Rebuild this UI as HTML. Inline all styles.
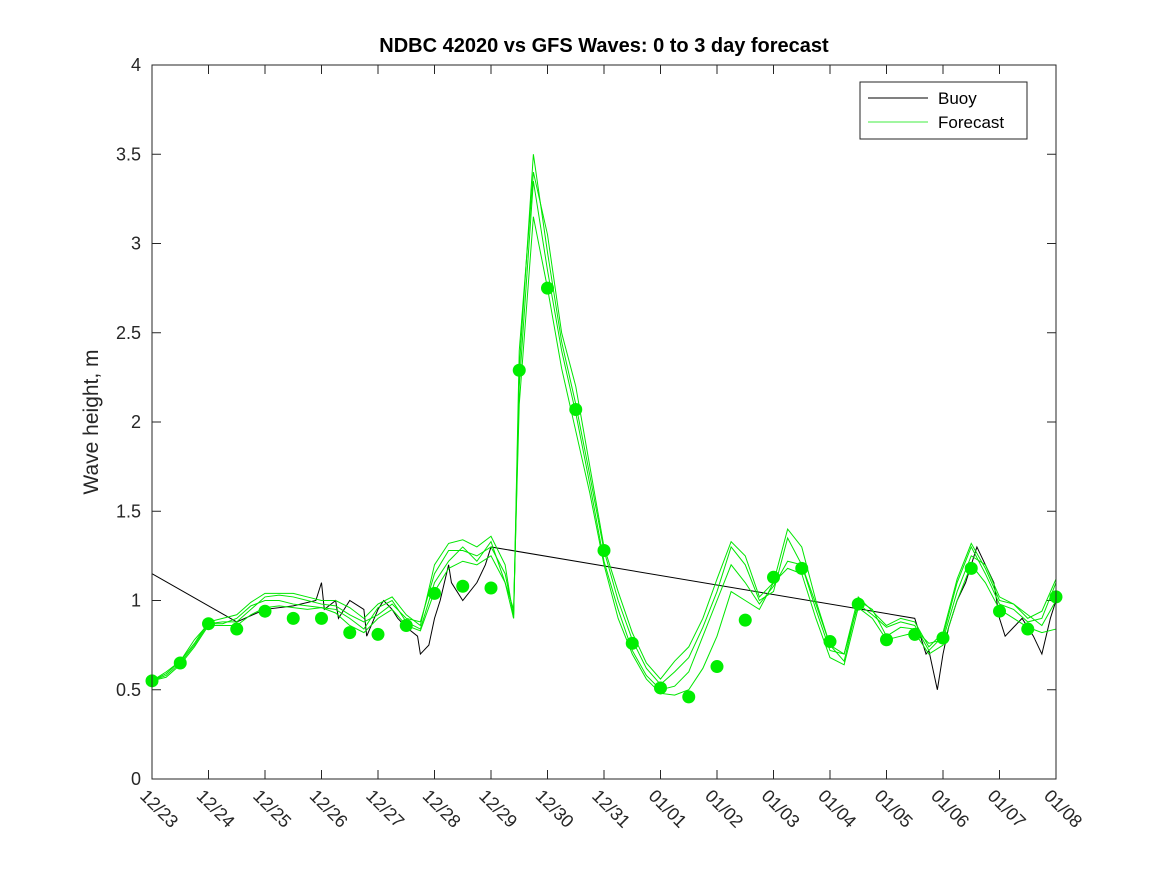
<!DOCTYPE html>
<html><head><meta charset="utf-8"><style>
body{margin:0;background:#fff;}
svg{display:block;font-family:"Liberation Sans",sans-serif;}
</style></head><body>
<svg id="chart" width="1167" height="875">
<rect width="1167" height="875" fill="#fff"/>
<text x="604" y="52" text-anchor="middle" font-size="20" font-weight="bold" fill="#000">NDBC 42020 vs GFS Waves: 0 to 3 day forecast</text>
<text transform="translate(98,422) rotate(-90)" text-anchor="middle" font-size="21" fill="#262626">Wave height, m</text>
<g id="grid"></g>
<g id="plot"></g>
<rect x="152" y="65" width="904" height="714" fill="none" stroke="#262626" stroke-width="1"/>
<g>
<rect x="860" y="82" width="167" height="57" fill="#fff" stroke="#262626"/>
<line x1="868" y1="98" x2="928" y2="98" stroke="#000"/>
<text x="938" y="104" font-size="17" fill="#000">Buoy</text>
<line x1="868" y1="122" x2="928" y2="122" stroke="#00e600" stroke-width="0.8"/>
<text x="938" y="128" font-size="17" fill="#000">Forecast</text>
</g>
</svg>
<script>
const xTickLabels=["12/23","12/24","12/25","12/26","12/27","12/28","12/29","12/30","12/31","01/01","01/02","01/03","01/04","01/05","01/06","01/07","01/08"];
const yTicks=[0,0.5,1,1.5,2,2.5,3,3.5,4];
const buoyT=[0,1.5,2,2.5,2.9,3.0,3.05,3.25,3.3,3.5,3.75,3.8,4,4.1,4.25,4.35,4.5,4.7,4.75,4.9,5,5.1,5.25,5.3,5.5,5.75,5.9,6,13.5,13.7,13.75,13.9,14,14.1,14.25,14.4,14.5,14.6,14.75,14.9,15,15.1,15.25,15.4,15.5,15.6,15.75,15.9,16];
const buoyV=[1.15,0.88,0.95,0.97,1.0,1.1,0.95,1.0,0.9,1.0,0.95,0.8,0.95,1.0,0.95,0.9,0.85,0.8,0.7,0.75,0.9,1.0,1.2,1.1,1.0,1.1,1.2,1.3,0.9,0.7,0.72,0.5,0.7,0.85,1.0,1.1,1.2,1.3,1.2,1.1,0.9,0.8,0.85,0.9,0.85,0.8,0.7,0.9,1.0];
const fcT=[0,0.25,0.5,0.75,1,1.25,1.5,1.75,2,2.25,2.5,2.75,3,3.25,3.5,3.75,4,4.25,4.5,4.75,5,5.25,5.5,5.75,6,6.25,6.4,6.5,6.75,7,7.25,7.5,7.75,8,8.25,8.5,8.75,9,9.25,9.5,9.75,10,10.25,10.5,10.75,11,11.25,11.5,11.75,12,12.25,12.5,12.75,13,13.25,13.5,13.75,14,14.25,14.5,14.75,15,15.25,15.5,15.75,16];
const fcA=[0.55,0.58,0.65,0.75,0.87,0.88,0.88,0.95,1.02,1.03,1.02,1.0,0.98,0.97,0.92,0.88,0.92,0.98,0.9,0.88,1.15,1.28,1.28,1.25,1.30,1.15,0.92,2.3,3.5,2.95,2.45,2.1,1.7,1.28,1.0,0.78,0.62,0.53,0.6,0.68,0.85,1.05,1.3,1.2,1.0,1.05,1.35,1.2,0.95,0.72,0.7,0.98,0.92,0.85,0.88,0.86,0.72,0.8,1.1,1.3,1.15,0.98,0.95,0.88,0.9,1.1];
const fcB=[0.55,0.6,0.66,0.78,0.87,0.87,0.9,0.97,1.0,1.0,0.98,0.97,0.96,0.95,0.9,0.84,0.96,1.0,0.88,0.84,1.1,1.22,1.3,1.22,1.33,1.1,0.9,2.2,3.35,2.85,2.4,2.05,1.65,1.22,0.95,0.72,0.58,0.5,0.52,0.6,0.8,1.0,1.2,1.1,0.98,1.08,1.22,1.2,0.98,0.75,0.66,1.0,0.95,0.8,0.85,0.84,0.76,0.78,1.05,1.25,1.2,1.02,0.98,0.92,0.86,1.0];
const fcC=[0.55,0.57,0.64,0.74,0.86,0.86,0.86,0.92,0.96,0.97,0.96,0.95,0.96,0.93,0.86,0.82,0.9,0.95,0.86,0.83,1.05,1.18,1.22,1.2,1.25,1.1,0.95,2.1,3.15,2.75,2.3,1.95,1.6,1.2,0.9,0.7,0.56,0.48,0.47,0.5,0.62,0.8,1.05,1.0,0.95,1.1,1.18,1.15,0.9,0.68,0.64,0.96,0.9,0.78,0.8,0.82,0.7,0.75,1.0,1.2,1.1,0.95,0.9,0.85,0.82,0.84];
const fcD=[0.55,0.59,0.66,0.76,0.88,0.9,0.92,0.99,1.04,1.04,1.04,1.02,1.0,1.0,0.96,0.9,0.98,1.02,0.92,0.86,1.2,1.32,1.34,1.3,1.36,1.2,0.9,2.4,3.4,3.05,2.5,2.2,1.75,1.3,1.05,0.82,0.65,0.56,0.66,0.74,0.9,1.12,1.33,1.25,1.02,1.1,1.4,1.3,1.0,0.75,0.7,1.02,0.94,0.86,0.9,0.88,0.74,0.82,1.12,1.32,1.18,1.0,0.98,0.9,0.94,1.12];
const dotT=[0,0.5,1,1.5,2,2.5,3,3.5,4,4.5,5,5.5,6,6.5,7,7.5,8,8.5,9,9.5,10,10.5,11,11.5,12,12.5,13,13.5,14,14.5,15,15.5,16];
const dotV=[0.55,0.65,0.87,0.84,0.94,0.90,0.90,0.82,0.81,0.86,1.04,1.08,1.07,2.29,2.75,2.07,1.28,0.76,0.51,0.46,0.63,0.89,1.13,1.18,0.77,0.98,0.78,0.81,0.79,1.18,0.94,0.84,1.02];

const NS="http://www.w3.org/2000/svg";
const X=d=>152+d*56.5;
const Y=v=>779-v*178.5;
const grid=document.getElementById('grid'),plot=document.getElementById('plot');
function mk(tag,attrs,parent){const e=document.createElementNS(NS,tag);for(const k in attrs)e.setAttribute(k,attrs[k]);parent.appendChild(e);return e;}
xTickLabels.forEach((l,i)=>{
  const x=X(i);
  const t1=mk('line',{x1:x,y1:779,x2:x,y2:770,stroke:'#262626'},grid);
  
  
  mk('line',{x1:x,y1:65,x2:x,y2:74,stroke:'#262626'},grid);
  const t=mk('text',{transform:`translate(${x-13},${797}) rotate(45)`,'font-size':'18',fill:'#262626'},grid);
  t.textContent=l;
  
  
});
yTicks.forEach(v=>{
  const y=Y(v);
  mk('line',{x1:152,y1:y,x2:161,y2:y,stroke:'#262626'},grid);
  mk('line',{x1:1056,y1:y,x2:1047,y2:y,stroke:'#262626'},grid);
  const t=mk('text',{x:141,y:y+6,'text-anchor':'end','font-size':'18',fill:'#262626'},grid);
  t.textContent=String(v);
  
  
});
function line(ts,vs,stroke,w,name){
  const p=mk('polyline',{points:ts.map((t,i)=>X(t)+','+Y(vs[i])).join(' '),fill:'none',stroke:stroke,'stroke-width':w},plot);
  
  
}
line(buoyT,buoyV,'#000',1,'buoy-line');
[fcA,fcB,fcC,fcD].forEach((s,i)=>line(fcT,s,'#00e600',1,'forecast-line-'+(i+1)));
dotT.forEach((t,i)=>{
  const c=mk('circle',{cx:X(t),cy:Y(dotV[i]),r:6.5,fill:'#00ee00'},plot);
  
  
});
</script>
</body></html>
